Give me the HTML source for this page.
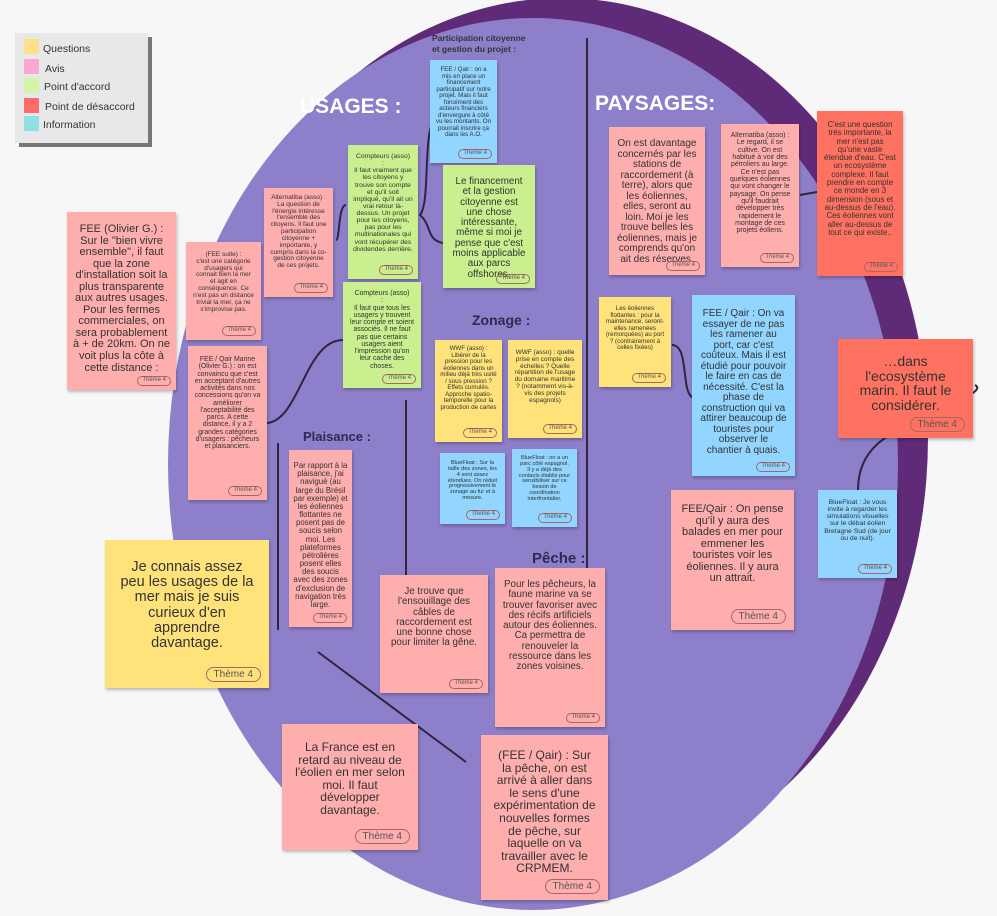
<!DOCTYPE html>
<html><head><meta charset="utf-8">
<style>
body{margin:0;width:997px;height:916px;overflow:hidden;background:#f7f7f7;font-family:"Liberation Sans",Arial,sans-serif;position:relative;color:#333}
.n{position:absolute;box-sizing:border-box;text-align:center;padding:6px 6px 14px;line-height:1.05;box-shadow:1px 2px 3px rgba(0,0,0,.25);overflow:hidden}
.p{background:#ffaeae}.r{background:#ff7262}.g{background:#c9ef8f}.y{background:#ffe27a}.b{background:#92d5ff}
.t{position:absolute;right:5px;bottom:4px;border:1px solid #a66;border-radius:8px;font-size:6px;padding:0 4px;color:#555;line-height:1.3}
.t.big{font-size:10px;padding:0 7px;bottom:6px;right:8px}
.h{position:absolute;font-weight:bold;white-space:nowrap}
</style></head><body>
<svg width="997" height="916" style="position:absolute;left:0;top:0">
<ellipse cx="562" cy="438" rx="366" ry="440" fill="#5f2b78"/>
<ellipse cx="533" cy="464" rx="365" ry="446" fill="#8e7fca"/>
<g stroke="#2e2540" stroke-width="2" fill="none">
<line x1="587" y1="38" x2="587" y2="590"/>
<line x1="406" y1="400" x2="406" y2="585"/>
<line x1="278" y1="443" x2="278" y2="630"/>
<line x1="318" y1="652" x2="466" y2="762"/>
<path d="M346 205 C338 205 340 240 336 240"/>
<path d="M440 115 C420 118 432 200 420 215 C432 225 426 240 443 243"/>
<path d="M267 423 C300 420 305 340 343 340"/>
<path d="M672 345 C690 345 680 395 694 398"/>
<line x1="800" y1="195" x2="817" y2="192"/>
<path d="M858 490 C858 440 900 430 940 410 C960 400 985 390 975 385"/>
</g>
</svg>
<div style="position:absolute;left:19px;top:37px;width:133px;height:110px;background:#777"></div>
<div style="position:absolute;left:15px;top:33px;width:133px;height:110px;background:#e8e8e8;font-size:10.5px">
<div style="position:absolute;left:9px;top:6px;width:15px;height:15px;background:#ffe08a"></div><div style="position:absolute;left:28px;top:10px">Questions</div>
<div style="position:absolute;left:9px;top:26px;width:15px;height:15px;background:#f9a8cf"></div><div style="position:absolute;left:30px;top:30px">Avis</div>
<div style="position:absolute;left:9px;top:45px;width:15px;height:15px;background:#d4f5a6"></div><div style="position:absolute;left:29px;top:48px">Point d'accord</div>
<div style="position:absolute;left:9px;top:65px;width:15px;height:15px;background:#ff6b6b"></div><div style="position:absolute;left:30px;top:68px">Point de désaccord</div>
<div style="position:absolute;left:9px;top:83px;width:15px;height:15px;background:#8fe0e0"></div><div style="position:absolute;left:28px;top:86px">Information</div>
</div>
<div class="h" style="left:300px;top:95px;font-size:21px;color:#fff">USAGES :</div>
<div class="h" style="left:595px;top:92px;font-size:21px;color:#fff">PAYSAGES:</div>
<div class="h" style="left:432px;top:33px;font-size:8.5px;color:#333;line-height:1.35">Participation citoyenne<br>et gestion du projet :</div>
<div class="h" style="left:472px;top:312px;font-size:14px;color:#2e2a50">Zonage :</div>
<div class="h" style="left:303px;top:429px;font-size:13px;color:#2e2a50">Plaisance :</div>
<div class="h" style="left:532px;top:550px;font-size:15px;color:#2e2a50">Pêche :</div>

<div class="n p" style="left:67px;top:212px;width:109px;height:178px;font-size:11px;padding:12px 6px 14px">FEE (Olivier G.) : Sur le "bien vivre ensemble", il faut que la zone d'installation soit la plus transparente aux autres usages. Pour les fermes commerciales, on sera probablement à + de 20km. On ne voit plus la côte à cette distance :<span class="t">Thème 4</span></div>
<div class="n p" style="left:186px;top:242px;width:75px;height:98px;font-size:6.5px;padding:10px 7px 14px">(FEE suite) :<br>c'est une catégorie d'usagers qui connait bien la mer et agit en conséquence. Ce n'est pas un distance trivial la mer, ça ne s'improvise pas.<span class="t">Thème 4</span></div>
<div class="n p" style="left:264px;top:188px;width:69px;height:109px;font-size:6.5px;padding:7px 5px">Alternatiba (asso) : La question de l'énergie intéresse l'ensemble des citoyens. Il faut une participation citoyenne + importante, y compris dans la co-gestion citoyenne de ces projets.<span class="t">Thème 4</span></div>
<div class="n g" style="left:348px;top:145px;width:70px;height:134px;font-size:6.8px;padding:8px 5px">Compteurs (asso)<br>:<br>Il faut vraiment que les citoyens y trouve son compte et qu'il soit impliqué, qu'il ait un vrai retour là-dessus. Un projet pour les citoyens, pas pour les multinationales qui vont récupérer des dividendes derrière.<span class="t">Thème 4</span></div>
<div class="n g" style="left:343px;top:282px;width:78px;height:106px;font-size:6.9px;padding:8px 5px">Compteurs (asso)<br>:<br>Il faut que tous les usagers y trouvent leur compte et soient associés. Il ne faut pas que certains usagers aient l'impression qu'on leur cache des choses.<span class="t">Thème 4</span></div>
<div class="n p" style="left:188px;top:346px;width:79px;height:154px;font-size:6.9px;padding:10px 6px">FEE / Qair Marine (Olivier G.) : on est convaincu que c'est en acceptant d'autres activités dans nos concessions qu'on va améliorer l'acceptabilité des parcs. A cette distance, il y a 2 grandes catégories d'usagers : pêcheurs et plaisanciers.<span class="t">Thème 4</span></div>
<div class="n b" style="left:430px;top:60px;width:67px;height:103px;font-size:6.2px;padding:7px 5px">FEE / Qair : on a mis en place un financement participatif sur notre projet. Mais il faut forcément des acteurs financiers d'envergure à côté vu les montants. On pourrait inscrire ça dans les A.O.<span class="t">Thème 4</span></div>
<div class="n g" style="left:443px;top:165px;width:92px;height:123px;font-size:9.8px;padding:12px 8px">Le financement et la gestion citoyenne est une chose intéressante, même si moi je pense que c'est moins applicable aux parcs offshores.<span class="t">Thème 4</span></div>
<div class="n y" style="left:435px;top:340px;width:67px;height:102px;font-size:6.2px;padding:6px 5px">WWF (asso) : Libérer de la pression pour les éoliennes dans un milieu déjà très usité / sous pression ? Effets cumulés. Approche spatio-temporelle pour la production de cartes<span class="t">Thème 4</span></div>
<div class="n y" style="left:508px;top:340px;width:74px;height:98px;font-size:6.5px;padding:10px 6px">WWF (asso) : quelle prise en compte des échelles ? Quelle répartition de l'usage du domaine maritime ? (notamment vis-à-vis des projets espagnols)<span class="t">Thème 4</span></div>
<div class="n b" style="left:440px;top:453px;width:65px;height:71px;font-size:5.6px;padding:8px 6px">BlueFloat : Sur la taille des zones, les 4 sont assez étendues. On réduit progressivement le zonage au fur et à mesure.<span class="t">Thème 4</span></div>
<div class="n b" style="left:512px;top:449px;width:65px;height:78px;font-size:5.6px;padding:7px 6px">BlueFloat : on a un parc côté espagnol. Il y a déjà des contacts établis pour sensibiliser sur ce besoin de coordination interfrontalier.<span class="t">Thème 4</span></div>
<div class="n p" style="left:289px;top:450px;width:63px;height:177px;font-size:7.8px;padding:12px 4px">Par rapport à la plaisance, j'ai navigué (au large du Brésil par exemple) et les éoliennes flottantes ne posent pas de soucis selon moi. Les plateformes pétrolières posent elles des soucis avec des zones d'exclusion de navigation très large.<span class="t">Thème 4</span></div>
<div class="n y" style="left:105px;top:540px;width:164px;height:148px;font-size:14.5px;padding:20px 14px">Je connais assez peu les usages de la mer mais je suis curieux d'en apprendre davantage.<span class="t big">Thème 4</span></div>
<div class="n p" style="left:380px;top:575px;width:108px;height:118px;font-size:9.8px;padding:12px 8px">Je trouve que l'ensouillage des câbles de raccordement est une bonne chose pour limiter la gêne.<span class="t">Thème 4</span></div>
<div class="n p" style="left:495px;top:568px;width:110px;height:159px;font-size:9.8px;padding:12px 7px">Pour les pêcheurs, la faune marine va se trouver favoriser avec des récifs artificiels autour des éoliennes. Ca permettra de renouveler la ressource dans les zones voisines.<span class="t">Thème 4</span></div>
<div class="n p" style="left:282px;top:724px;width:136px;height:126px;font-size:12px;padding:17px 12px">La France est en retard au niveau de l'éolien en mer selon moi. Il faut développer davantage.<span class="t big">Thème 4</span></div>
<div class="n p" style="left:481px;top:735px;width:127px;height:165px;font-size:12px;padding:14px 12px">(FEE / Qair) : Sur la pêche, on est arrivé à aller dans le sens d'une expérimentation de nouvelles formes de pêche, sur laquelle on va travailler avec le CRPMEM.<span class="t big">Thème 4</span></div>
<div class="n p" style="left:609px;top:127px;width:96px;height:148px;font-size:10px;padding:12px 6px">On est davantage concernés par les stations de raccordement (à terre), alors que les éoliennes, elles, seront au loin. Moi je les trouve belles les éoliennes, mais je comprends qu'on ait des réserves.<span class="t">Thème 4</span></div>
<div class="n p" style="left:721px;top:124px;width:78px;height:143px;font-size:7px;padding:8px 5px">Alternatiba (asso) : Le regard, il se cultive. On est habitué à voir des pétroliers au large. Ce n'est pas quelques éoliennes qui vont changer le paysage. On pense qu'il faudrait développer très rapidement le montage de ces projets éoliens.<span class="t">Thème 4</span></div>
<div class="n r" style="left:817px;top:111px;width:86px;height:165px;font-size:7.9px;padding:10px 7px">C'est une question très importante, la mer n'est pas qu'une vaste étendue d'eau. C'est un ecosystème complexe. Il faut prendre en compte ce monde en 3 dimension (sous et au-dessus de l'eau). Ces éoliennes vont aller au-dessus de tout ce qui existe..<span class="t">Thème 4</span></div>
<div class="n y" style="left:599px;top:297px;width:72px;height:90px;font-size:6.2px;padding:9px 6px">Les éoliennes flottantes : pour la maintenance, seront-elles ramenées (remorquées) au port ? (contrairement à celles fixées)<span class="t">Thème 4</span></div>
<div class="n b" style="left:692px;top:295px;width:103px;height:181px;font-size:10px;padding:14px 8px">FEE / Qair : On va essayer de ne pas les ramener au port, car c'est coûteux. Mais il est étudié pour pouvoir le faire en cas de nécessité. C'est la phase de construction qui va attirer beaucoup de touristes pour observer le chantier à quais.<span class="t">Thème 4</span></div>
<div class="n r" style="left:838px;top:339px;width:135px;height:99px;font-size:14px;padding:15px 20px">…dans l'ecosystème marin. Il faut le considérer.<span class="t big">Thème 4</span></div>
<div class="n p" style="left:671px;top:490px;width:123px;height:140px;font-size:11px;padding:14px 8px">FEE/Qair : On pense qu'il y aura des balades en mer pour emmener les touristes voir les éoliennes. Il y aura un attrait.<span class="t big">Thème 4</span></div>
<div class="n b" style="left:818px;top:490px;width:79px;height:88px;font-size:6.8px;padding:9px 6px">BlueFloat : Je vous invite à regarder les simulations visuelles sur le débat éolien Bretagne Sud (de jour ou de nuit).<span class="t">Thème 4</span></div>
</body></html>
